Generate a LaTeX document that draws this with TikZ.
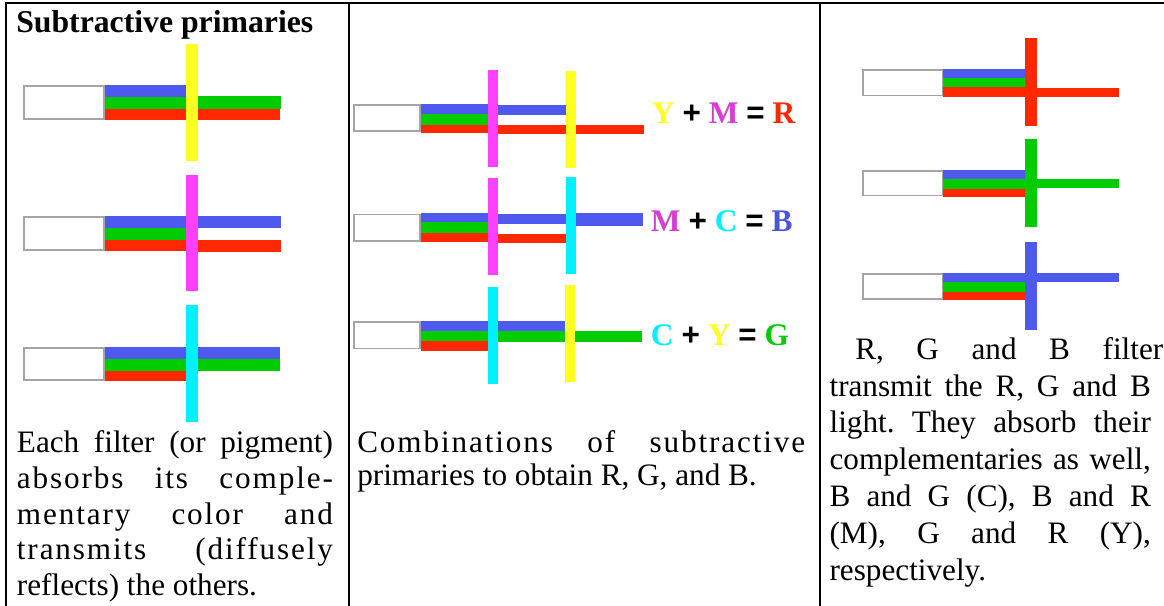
\documentclass[tikz,border=0pt]{standalone}
\usepackage{fontspec}
\setmainfont{Liberation Serif}
\newfontfamily\opfont{Liberation Sans}
\usetikzlibrary{positioning}
\definecolor{bandblue}{RGB}{78, 90, 238}
\definecolor{bandgreen}{RGB}{0, 204, 0}
\definecolor{bandred}{RGB}{255, 40, 0}
\definecolor{filteryellow}{RGB}{255, 255, 34}
\definecolor{filtermagenta}{RGB}{255, 64, 255}
\definecolor{filtercyan}{RGB}{0, 240, 255}
\definecolor{labelmagenta}{RGB}{214, 60, 214}
\definecolor{labelblue}{RGB}{74, 84, 220}
\definecolor{boxgray}{RGB}{165, 165, 165}
\hbadness=10000
\frenchspacing
\newcommand\spread[1]{{\addfontfeature{LetterSpace=6}#1}}

\begin{document}
\begin{tikzpicture}[x=0.75pt, y=-0.75pt,
    source/.style={draw=boxgray, line width=1.2pt, fill=white},
    rule/.style={line width=1.5pt, draw=black},
    bodytext/.style={inner sep=0pt, anchor=base west, align=justify, font=\fontsize{23.4pt}{26.8pt}\selectfont},
    eqlabel/.style={inner sep=0pt, anchor=base west, font=\fontsize{23.6pt}{27pt}\selectfont\bfseries}]
  \useasboundingbox (0,0) rectangle (1164,606);
  % table rules
  \draw[rule] (6,606) -- (6,3) -- (1164,3);
  \draw[rule] (349,3) -- (349,606);
  \draw[rule] (819.5,3) -- (819.5,606);

  % left column: one filter each
  \node[eqlabel, font=\fontsize{23.8pt}{27pt}\selectfont\bfseries] (title) at (16,32.3) {Subtractive primaries};
  % yellow
  \fill[bandblue] (105,85) rectangle (186,97);
  \fill[bandgreen] (105,97) rectangle (186,109);
  \fill[bandred] (105,109) rectangle (186,120);
  \fill[filteryellow] (186,44) rectangle (198,161);
  \fill[bandgreen] (198,96.5) rectangle (281,109);
  \fill[bandred] (198,109) rectangle (280,120);
  \draw[source] (24,86) rectangle (104,119);
  % magenta
  \fill[bandblue] (105,216) rectangle (186,228);
  \fill[bandgreen] (105,228) rectangle (186,240);
  \fill[bandred] (105,240) rectangle (186,251);
  \fill[filtermagenta] (186,175) rectangle (198,291);
  \fill[bandblue] (198,216) rectangle (281,228.5);
  \fill[bandred] (198,240.5) rectangle (281,251.5);
  \draw[source] (24,217) rectangle (104,250);
  % cyan
  \fill[bandblue] (105,347) rectangle (186,358.5);
  \fill[bandgreen] (105,358.5) rectangle (186,371);
  \fill[bandred] (105,371) rectangle (186,381);
  \fill[filtercyan] (186,305) rectangle (198,422);
  \fill[bandblue] (198,347) rectangle (280,358.5);
  \fill[bandgreen] (198,358.5) rectangle (280,371);
  \draw[source] (24,348) rectangle (104,380);
  \node[bodytext, text width=237pt] (note1) at (16.7,452.7)
    {Each filter (or pigment)\linebreak \spread{absorbs its comple-}\linebreak \spread{mentary color and}\linebreak \spread{transmits (diffusely}\linebreak reflects) the others.};

  % middle column: two filters in a row
  % Y + M = R
  \fill[bandblue] (420.7,104) rectangle (488,114);
  \fill[bandgreen] (420.7,114) rectangle (488,125);
  \fill[bandred] (420.7,125) rectangle (488,133.5);
  \fill[filtermagenta] (488,70) rectangle (498,167);
  \fill[bandblue] (498,105) rectangle (566,115);
  \fill[bandred] (498,125.5) rectangle (566,134.5);
  \fill[filteryellow] (566,71) rectangle (576,168);
  \fill[bandred] (576,125.5) rectangle (644,134.5);
  \draw[source] (353.7,105) rectangle (419.7,131.3);
  \node[eqlabel] (eqR) at (651.7,124) {{\color{filteryellow}Y} {\opfont +} {\color{labelmagenta}M} {\opfont =} {\color{bandred}R}};
  % M + C = B
  \fill[bandblue] (420.7,213.5) rectangle (488,222);
  \fill[bandgreen] (420.7,222) rectangle (488,233.5);
  \fill[bandred] (420.7,233.5) rectangle (488,242);
  \fill[filtermagenta] (488,178) rectangle (498,275);
  \fill[bandblue] (498,214) rectangle (566,224);
  \fill[bandred] (498,234) rectangle (566,242.5);
  \fill[filtercyan] (566,177) rectangle (576,274);
  \fill[bandblue] (576,213.5) rectangle (643,226.5);
  \draw[source] (353.7,214.5) rectangle (419.7,241);
  \node[eqlabel] (eqB) at (650.7,231.7) {{\color{labelmagenta}M} {\opfont +} {\color{filtercyan}C} {\opfont =} {\color{labelblue}B}};
  % C + Y = G
  \fill[bandblue] (420.7,320.7) rectangle (488,331);
  \fill[bandgreen] (420.7,331) rectangle (488,341);
  \fill[bandred] (420.7,341) rectangle (488,350.5);
  \fill[filtercyan] (488,287) rectangle (498,384);
  \fill[bandblue] (498,320.7) rectangle (565,331);
  \fill[bandgreen] (498,331) rectangle (565,341.5);
  \fill[filteryellow] (565,285) rectangle (575,382);
  \fill[bandgreen] (575,331) rectangle (642,341.5);
  \draw[source] (353.7,321.7) rectangle (419.7,348.5);
  \node[eqlabel] (eqG) at (650.7,345) {{\color{filtercyan}C} {\opfont +} {\color{filteryellow}Y} {\opfont =} {\color{bandgreen}G}};
  \node[bodytext, text width=336pt, font=\fontsize{23.4pt}{24.8pt}\selectfont] (note2) at (357,452.7)
    {\spread{Combinations of subtractive}\linebreak primaries to obtain R, G, and B.};

  % right column: R, G and B filters
  % red
  \fill[bandblue] (943,69.3) rectangle (1025,78);
  \fill[bandgreen] (943,78) rectangle (1025,87.3);
  \fill[bandred] (943,87.3) rectangle (1025,96.7);
  \fill[bandred] (1025,38) rectangle (1037,126);
  \fill[bandred] (1037,88) rectangle (1119,96.7);
  \draw[source] (862.7,70.3) rectangle (942.3,95.7);
  % green
  \fill[bandblue] (943,170) rectangle (1025,179);
  \fill[bandgreen] (943,179) rectangle (1025,189);
  \fill[bandred] (943,189) rectangle (1025,196.7);
  \fill[bandgreen] (1025,139) rectangle (1037,226.7);
  \fill[bandgreen] (1037,179) rectangle (1119,188.5);
  \draw[source] (862.7,171) rectangle (942.3,195.7);
  % blue
  \fill[bandblue] (943,272.7) rectangle (1025,282);
  \fill[bandgreen] (943,282) rectangle (1025,291.7);
  \fill[bandred] (943,291.7) rectangle (1025,300);
  \fill[bandblue] (1025,241.7) rectangle (1037,330);
  \fill[bandblue] (1037,272.7) rectangle (1119,282);
  \draw[source] (862.7,273.7) rectangle (942.3,299);
  \node[bodytext] (note3a) at (855,359.3) {\makebox[231pt][s]{R, G and B filter}};
  \node[bodytext, text width=241pt, font=\fontsize{23.4pt}{27.6pt}\selectfont] (note3) at (829.3,396)
    {transmit the R, G and B\linebreak light. They absorb their\linebreak complementaries as well,\linebreak B and G (C), B and R\linebreak (M), G and R (Y),\linebreak respectively.};
\end{tikzpicture}
\end{document}
